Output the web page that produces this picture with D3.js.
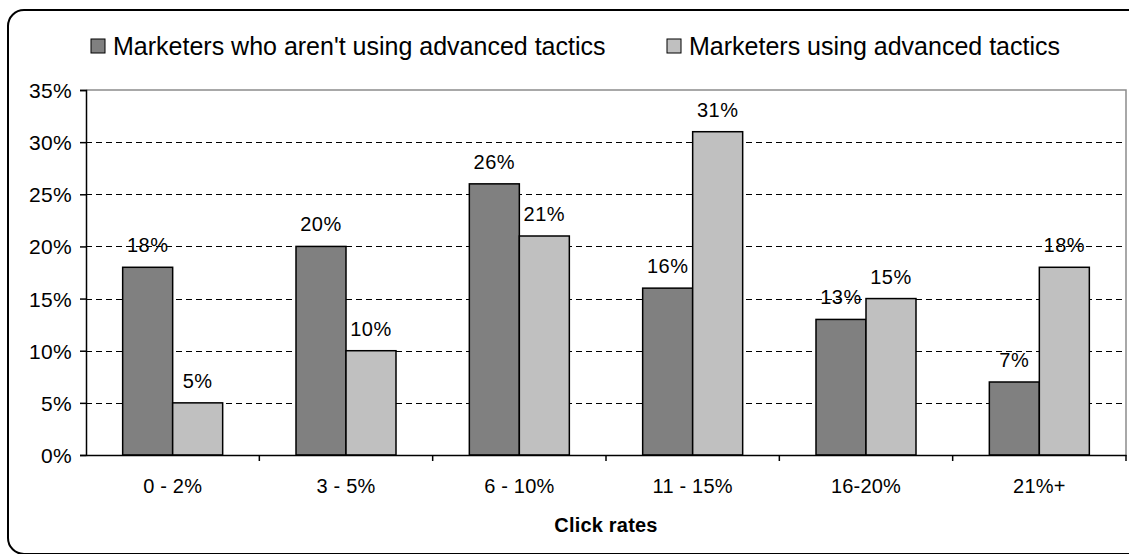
<!DOCTYPE html>
<html lang="en">
<head>
<meta charset="utf-8">
<title>Click rates</title>
<style>
body { margin: 0; background: #fff; }
svg text { font-family: "Liberation Sans", Arial, sans-serif; fill: #000; }
.legendText { font-size: 25px; letter-spacing: 0px; }
.yTickText { font-size: 21px; letter-spacing: 0.3px; }
.xTickText { font-size: 20px; letter-spacing: 0.2px; }
.valueText { font-size: 20px; letter-spacing: 0.5px; text-anchor: middle; }
.axisTitle { font-size: 20px; letter-spacing: 0.2px; text-anchor: middle; font-weight: bold; }
</style>
</head>
<body>
<div id="chart"></div>
<script src="https://d3js.org/d3.v7.min.js"></script>
<script>
var categories = ['0 - 2%', '3 - 5%', '6 - 10%', '11 - 15%', '16-20%', '21%+'];
var seriesNames = ["Marketers who aren't using advanced tactics", 'Marketers using advanced tactics'];
var notAdvanced = [18, 20, 26, 16, 13, 7];
var advanced = [5, 10, 21, 31, 15, 18];
var yTicks = [0, 5, 10, 15, 20, 25, 30, 35];
var colors = ['#808080', '#c0c0c0'];

var W = 1129, H = 554;
var plot = { left: 86, right: 1126, top: 90, bottom: 455 };

var svg = d3.select('#chart').append('svg')
  .attr('width', W).attr('height', H);

// outer rounded frame
svg.append('rect')
  .attr('x', 8).attr('y', 10)
  .attr('width', 1140).attr('height', 544)
  .attr('rx', 16)
  .attr('fill', 'none')
  .attr('stroke', '#000')
  .attr('stroke-width', 2);

var y = d3.scaleLinear().domain([0, 35]).range([plot.bottom, plot.top]);
var x0 = d3.scaleBand().domain(categories).range([plot.left, plot.right]);
var x1 = d3.scaleBand().domain([0, 1]).range([0, x0.bandwidth()]);
// keep each bar ~50px wide, centred in its category band
x1.paddingOuter((x0.bandwidth() - 100) / 2 / 50);

// plot frame (grey top/right)
svg.append('path')
  .attr('d', 'M' + plot.left + ',' + plot.top + 'H' + plot.right + 'V' + plot.bottom)
  .attr('fill', 'none')
  .attr('stroke', '#8c8c8c')
  .attr('stroke-width', 1.5);

// dashed gridlines
svg.append('g').selectAll('line')
  .data(yTicks.filter(function(d) { return d > 0 && d < 35; }))
  .enter().append('line')
  .attr('x1', plot.left).attr('x2', plot.right)
  .attr('y1', function(d) { return Math.round(y(d)) + 0.5; })
  .attr('y2', function(d) { return Math.round(y(d)) + 0.5; })
  .attr('stroke', '#000')
  .attr('stroke-width', 1)
  .attr('stroke-dasharray', '6,4');

// bars
var groups = svg.append('g').selectAll('g')
  .data(categories)
  .enter().append('g')
  .attr('transform', function(d) { return 'translate(' + x0(d) + ',0)'; });

groups.selectAll('rect')
  .data(function(d, i) { return [notAdvanced[i], advanced[i]]; })
  .enter().append('rect')
  .attr('x', function(d, j) { return x1(j); })
  .attr('width', x1.bandwidth())
  .attr('y', function(d) { return y(d); })
  .attr('height', function(d) { return plot.bottom - y(d); })
  .attr('fill', function(d, j) { return colors[j]; })
  .attr('stroke', '#000')
  .attr('stroke-width', 1.5);

groups.selectAll('text')
  .data(function(d, i) { return [notAdvanced[i], advanced[i]]; })
  .enter().append('text')
  .attr('class', 'valueText')
  .attr('x', function(d, j) { return x1(j) + x1.bandwidth() / 2; })
  .attr('y', function(d) { return y(d) - 15; })
  .text(function(d) { return d + '%'; });

// y axis
var yAxis = svg.append('g')
  .attr('transform', 'translate(' + plot.left + ',0)')
  .call(d3.axisLeft(y).tickValues(yTicks).tickSize(6).tickPadding(8)
    .tickFormat(function(d) { return d + '%'; }));
yAxis.select('.domain').attr('stroke', '#000').attr('stroke-width', 1.5);
yAxis.selectAll('.tick line').attr('stroke', '#000').attr('stroke-width', 1.5);
yAxis.selectAll('text').attr('class', 'yTickText').attr('font-size', null).attr('font-family', null).attr('dy', '0.36em');

// x axis
var xAxis = svg.append('g')
  .attr('transform', 'translate(0,' + plot.bottom + ')')
  .call(d3.axisBottom(x0).tickSize(0).tickPadding(24));
xAxis.select('.domain').attr('stroke', '#000').attr('stroke-width', 1.5);
xAxis.selectAll('text').attr('class', 'xTickText').attr('font-size', null).attr('font-family', null);
xAxis.selectAll('.sep')
  .data(categories)
  .enter().append('line')
  .attr('class', 'sep')
  .attr('x1', function(d) { return x0(d) + x0.bandwidth(); })
  .attr('x2', function(d) { return x0(d) + x0.bandwidth(); })
  .attr('y1', 0).attr('y2', 6)
  .attr('stroke', '#000').attr('stroke-width', 1.5);

svg.append('text')
  .attr('class', 'axisTitle')
  .attr('x', (plot.left + plot.right) / 2)
  .attr('y', 532)
  .text('Click rates');

// legend
var legendX = [91, 667];
var legend = svg.append('g').selectAll('g')
  .data(seriesNames)
  .enter().append('g')
  .attr('transform', function(d, i) { return 'translate(' + legendX[i] + ',39)'; });
legend.append('rect')
  .attr('width', 14).attr('height', 14)
  .attr('fill', function(d, i) { return colors[i]; })
  .attr('stroke', '#000').attr('stroke-width', 1);
legend.append('text')
  .attr('class', 'legendText')
  .attr('x', 22).attr('y', 16)
  .text(function(d) { return d; });
</script>
</body>
</html>
